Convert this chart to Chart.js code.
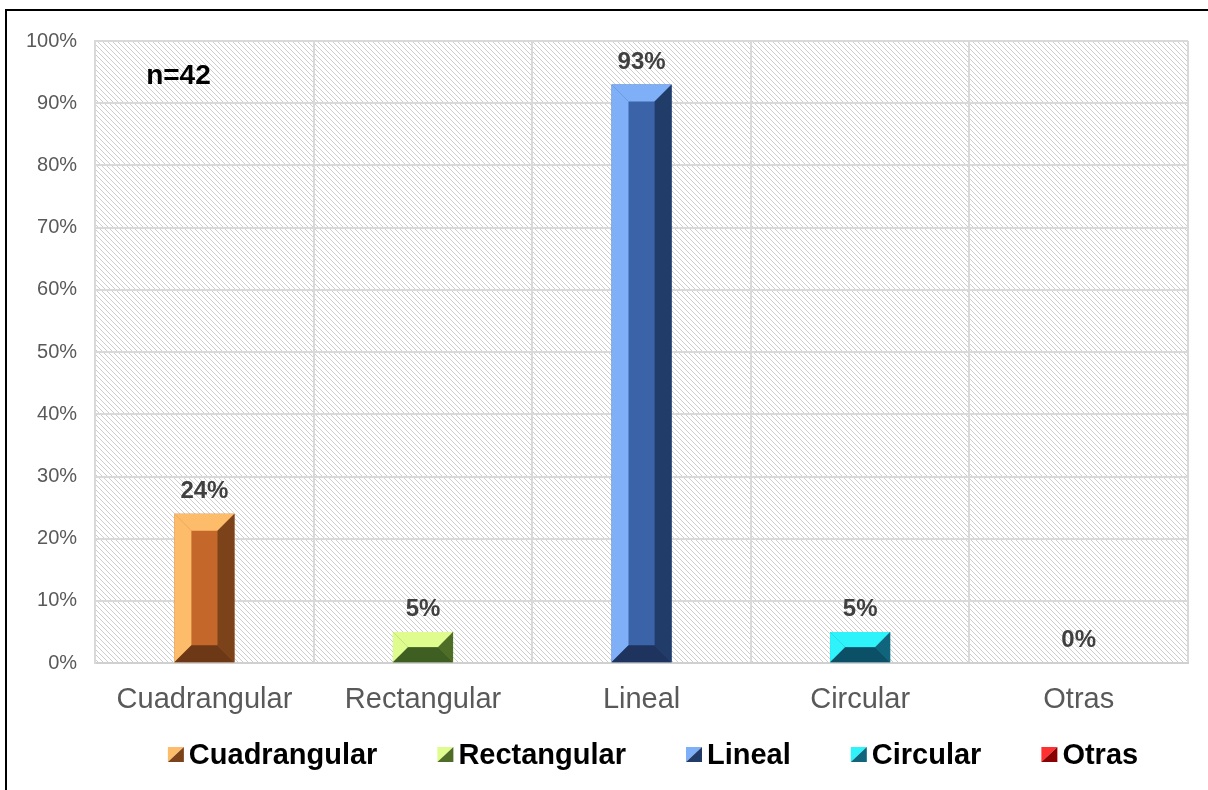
<!DOCTYPE html>
<html>
<head>
<meta charset="utf-8">
<script src="https://cdn.jsdelivr.net/npm/chart.js@4.4.1/dist/chart.umd.min.js"></script>
<style>
  html, body { margin: 0; padding: 0; background: #fff; overflow: hidden; }
  #frame { position: absolute; left: 5px; top: 9px; width: 1203px; height: 781px;
           border-left: 2px solid #000; border-top: 2px solid #000; }
  canvas { display: block; }
</style>
</head>
<body>
<div id="frame"><canvas id="chart" width="1201" height="779"></canvas></div>
<script>
// data
const categories = ['Cuadrangular', 'Rectangular', 'Lineal', 'Circular', 'Otras'];
const percentages = [24, 5, 93, 5, 0];
const sampleNote = 'n=42';

// colours (face / light bevel / right side / bottom)
const faceColors  = ['#c4672a', '#6f9038', '#3b63a8', '#1793aa', '#c00000'];
const lightColors = ['#fdbc6a', '#dffd8f', '#7eaff7', '#2ef3fb', '#ff3030'];
const sideColors  = ['#7c431b', '#4e6e28', '#223c6a', '#10657c', '#8b0000'];
const baseColors  = ['#6d3816', '#3f5e22', '#1e345e', '#0c5068', '#700000'];

const FONT = 'Liberation Sans, Arial, sans-serif';

function poly(ctx, pts, color) {
    ctx.beginPath();
    ctx.moveTo(pts[0][0], pts[0][1]);
    for (let k = 1; k < pts.length; k++) ctx.lineTo(pts[k][0], pts[k][1]);
    ctx.closePath();
    ctx.fillStyle = color;
    ctx.fill();
}

function makeHatch(ctx) {
    const c = document.createElement('canvas');
    c.width = 5; c.height = 5;
    const g = c.getContext('2d');
    g.strokeStyle = '#cdcdcd';
    g.lineWidth = 1;
    g.beginPath();
    g.moveTo(-1, -1); g.lineTo(6, 6);
    g.moveTo(-1, 4); g.lineTo(1, 6);
    g.moveTo(4, -1); g.lineTo(6, 1);
    g.stroke();
    return ctx.createPattern(c, 'repeat');
}

const hatchPlugin = {
    id: 'hatch',
    beforeDraw(chart) {
        const { ctx, chartArea: a } = chart;
        ctx.save();
        ctx.fillStyle = makeHatch(ctx);
        ctx.fillRect(a.left, a.top, a.right - a.left, a.bottom - a.top);
        ctx.restore();
    }
};

const bevelPlugin = {
    id: 'bevel',
    afterDatasetsDraw(chart) {
        const ctx = chart.ctx;
        const meta = chart.getDatasetMeta(0);
        ctx.save();
        meta.data.forEach((bar, i) => {
            const p = bar.getProps(['x', 'y', 'base', 'width'], true);
            const L = p.x - p.width / 2, R = p.x + p.width / 2;
            const T = Math.min(p.y, p.base), B = Math.max(p.y, p.base);
            const h = B - T;
            if (h < 1) return;
            const b = Math.min(17, h / 2, p.width / 2);
            poly(ctx, [[L, T], [R, T], [R - b, T + b], [L + b, T + b]], lightColors[i]);
            poly(ctx, [[L, T], [L + b, T + b], [L + b, B - b], [L, B]], lightColors[i]);
            poly(ctx, [[R, T], [R, B], [R - b, B - b], [R - b, T + b]], sideColors[i]);
            poly(ctx, [[L, B], [R, B], [R - b, B - b], [L + b, B - b]], baseColors[i]);
        });
        // value labels
        ctx.font = 'bold 24px ' + FONT;
        ctx.fillStyle = '#404040';
        ctx.textAlign = 'center';
        ctx.textBaseline = 'alphabetic';
        meta.data.forEach((bar, i) => {
            ctx.fillText(percentages[i] + '%', bar.x, bar.y - 16);
        });
        ctx.restore();
    }
};

const notePlugin = {
    id: 'note',
    afterDraw(chart) {
        const { ctx, chartArea: a } = chart;
        ctx.save();
        ctx.font = 'bold 28px ' + FONT;
        ctx.fillStyle = '#000';
        ctx.textBaseline = 'alphabetic';
        ctx.fillText(sampleNote, a.left + 51, a.top + 43);
        ctx.restore();
    }
};

// legend drawn by hand so the swatches can carry the bevel look
const legendPlugin = {
    id: 'bevelLegend',
    afterDraw(chart) {
        const ctx = chart.ctx;
        const box = 16, gap = 5, spacing = 60;
        const cx = 646, cy = 744;
        ctx.save();
        ctx.font = 'bold 29px ' + FONT;
        const widths = categories.map(c => box + gap + ctx.measureText(c).width);
        const total = widths.reduce((s, w) => s + w, 0) + spacing * (categories.length - 1);
        let x = cx - total / 2;
        categories.forEach((c, i) => {
            const top = cy - 8;
            poly(ctx, [[x, top], [x + box, top], [x, top + 15]], lightColors[i]);
            poly(ctx, [[x + box, top], [x + box, top + 15], [x, top + 15]], sideColors[i]);
            ctx.fillStyle = '#000';
            ctx.textBaseline = 'middle';
            ctx.textAlign = 'left';
            ctx.fillText(c, x + box + gap, cy + 1);
            x += widths[i] + spacing;
        });
        ctx.restore();
    }
};

new Chart(document.getElementById('chart').getContext('2d'), {
    type: 'bar',
    data: {
        labels: categories,
        datasets: [{
            label: 'Porcentaje',
            data: percentages,
            backgroundColor: faceColors,
            borderWidth: 0,
            barPercentage: 0.275,
            categoryPercentage: 1
        }]
    },
    options: {
        responsive: false,
        animation: false,
        layout: { padding: { left: 1, right: 20, top: 29, bottom: 54 } },
        plugins: {
            legend: { display: false },
            tooltip: { enabled: false }
        },
        scales: {
            x: {
                grid: { color: '#d9d9d9', lineWidth: 2, drawTicks: false },
                border: { color: '#d0d0d0', width: 2 },
                ticks: { color: '#595959', padding: 19, font: { family: FONT, size: 29 } }
            },
            y: {
                min: 0,
                max: 100,
                grid: { color: '#d9d9d9', lineWidth: 2, drawTicks: false },
                border: { color: '#d9d9d9', width: 2 },
                ticks: {
                    stepSize: 10,
                    color: '#595959',
                    padding: 18,
                    font: { family: FONT, size: 20 },
                    callback: v => v + '%'
                }
            }
        }
    },
    plugins: [hatchPlugin, bevelPlugin, notePlugin, legendPlugin]
});
</script>
</body>
</html>
